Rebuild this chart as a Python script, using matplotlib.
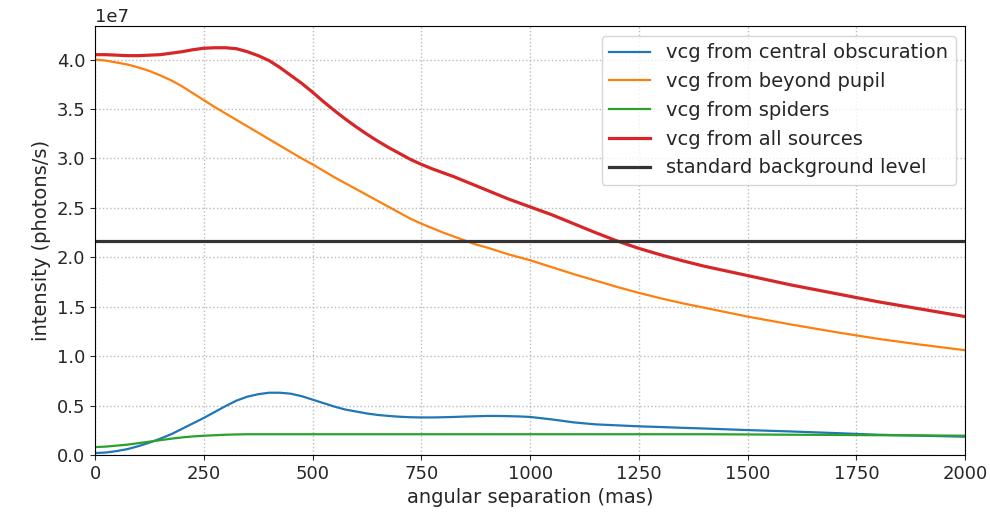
import matplotlib
matplotlib.use('Agg')
import matplotlib.pyplot as plt
import numpy as np

# angular separation (mas)
sep = [0, 25, 50, 75, 100, 125, 150, 175, 200, 225, 250, 275, 300, 325, 350, 375,
       400, 425, 450, 475, 500, 525, 550, 575, 600, 625, 650, 675, 700, 725, 750,
       775, 800, 825, 850, 875, 900, 925, 950, 975, 1000,
       1050, 1100, 1150, 1200, 1250, 1300, 1350, 1400,
       1500, 1600, 1700, 1800, 1900, 2000]

# intensities in units of 1e7 photons/s
central = [0.02, 0.025, 0.04, 0.06, 0.09, 0.125, 0.165, 0.21, 0.265, 0.32, 0.375,
           0.435, 0.495, 0.55, 0.59, 0.615, 0.63, 0.63, 0.62, 0.595, 0.56, 0.525,
           0.49, 0.46, 0.44, 0.42, 0.405, 0.395, 0.387, 0.382, 0.38, 0.38, 0.382,
           0.385, 0.389, 0.392, 0.395, 0.395, 0.393, 0.39, 0.385,
           0.36, 0.33, 0.31, 0.30, 0.29, 0.283, 0.275, 0.268,
           0.252, 0.238, 0.222, 0.205, 0.195, 0.185]
beyond = [4.00, 3.99, 3.97, 3.95, 3.92, 3.885, 3.84, 3.79, 3.73, 3.66, 3.59,
          3.52, 3.455, 3.39, 3.325, 3.26, 3.195, 3.13, 3.065, 3.00, 2.94, 2.875,
          2.81, 2.75, 2.69, 2.63, 2.57, 2.51, 2.45, 2.39, 2.34, 2.295, 2.25,
          2.21, 2.17, 2.13, 2.10, 2.065, 2.03, 2.00, 1.97,
          1.90, 1.83, 1.765, 1.70, 1.64, 1.585, 1.535, 1.49,
          1.40, 1.32, 1.245, 1.175, 1.115, 1.06]
spiders = [0.08, 0.085, 0.095, 0.105, 0.12, 0.135, 0.15, 0.165, 0.178, 0.188, 0.195,
           0.20, 0.205, 0.208, 0.21, 0.21, 0.21, 0.21, 0.21, 0.21, 0.21, 0.21,
           0.21, 0.21, 0.21, 0.21, 0.21, 0.21, 0.21, 0.21, 0.21, 0.21, 0.21,
           0.21, 0.21, 0.21, 0.21, 0.21, 0.21, 0.21, 0.21,
           0.21, 0.21, 0.21, 0.21, 0.21, 0.21, 0.21, 0.21,
           0.208, 0.205, 0.203, 0.20, 0.198, 0.195]
allsrc = [4.05, 4.05, 4.045, 4.04, 4.04, 4.045, 4.05, 4.065, 4.08, 4.10, 4.115,
          4.12, 4.12, 4.11, 4.08, 4.04, 3.99, 3.92, 3.84, 3.76, 3.67, 3.575,
          3.485, 3.40, 3.32, 3.245, 3.175, 3.11, 3.05, 2.99, 2.94, 2.895, 2.855,
          2.815, 2.77, 2.725, 2.68, 2.635, 2.59, 2.55, 2.51,
          2.43, 2.34, 2.25, 2.165, 2.09, 2.025, 1.965, 1.91,
          1.815, 1.72, 1.635, 1.55, 1.475, 1.40]
background = 2.16

scale = 1e7
x = np.array(sep)

fig = plt.figure(figsize=(9.9, 5.2), dpi=100)
ax = fig.add_axes([0.096, 0.125, 0.879, 0.825])

ax.plot(x, np.array(central) * scale, color='tab:blue', lw=1.6, label='vcg from central obscuration')
ax.plot(x, np.array(beyond) * scale, color='tab:orange', lw=1.6, label='vcg from beyond pupil')
ax.plot(x, np.array(spiders) * scale, color='tab:green', lw=1.6, label='vcg from spiders')
ax.plot(x, np.array(allsrc) * scale, color='tab:red', lw=2.3, label='vcg from all sources')
ax.axhline(background * scale, color='#333333', lw=2.3, label='standard background level')

ax.set_xlim(0, 2000)
ax.set_ylim(0, 4.34e7)
ax.grid(True, linestyle=':', color='#bbbbbb', lw=1)
ax.tick_params(labelsize=13, colors='#262626')
ax.yaxis.get_offset_text().set_fontsize(13)
ax.set_xlabel('angular separation (mas)', fontsize=14, color='#262626')
ax.set_ylabel('intensity (photons/s)', fontsize=14, color='#262626')
leg = ax.legend(loc='upper right', fontsize=14, handlelength=2.1)
for t in leg.get_texts():
    t.set_color('#262626')

fig.savefig('out.png', dpi=100)
